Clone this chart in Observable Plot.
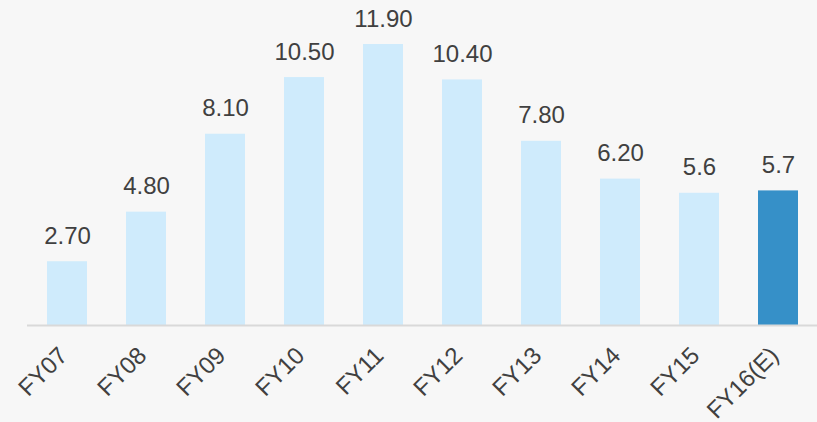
<!DOCTYPE html>
<html>
<head>
<meta charset="utf-8">
<script src="https://cdn.jsdelivr.net/npm/d3@7"></script>
<script src="https://cdn.jsdelivr.net/npm/@observablehq/plot@0.6"></script>
<style>
  html, body { margin: 0; padding: 0; background: #f7f7f7; }
  #chart svg { display: block; background: #f7f7f7; }
</style>
</head>
<body>
<div id="chart"></div>
<script>
const categories = ["FY07", "FY08", "FY09", "FY10", "FY11", "FY12", "FY13", "FY14", "FY15", "FY16(E)"];
const values = [2.70, 4.80, 8.10, 10.50, 11.90, 10.40, 7.80, 6.20, 5.6, 5.7];
const valueLabels = ["2.70", "4.80", "8.10", "10.50", "11.90", "10.40", "7.80", "6.20", "5.6", "5.7"];
const estimated = [false, false, false, false, false, false, false, false, false, true];

const data = categories.map((c, i) => ({cat: c, value: values[i], label: valueLabels[i], est: estimated[i]}));

const chart = Plot.plot({
  width: 817,
  height: 422,
  marginTop: 44,
  marginBottom: 97,
  marginLeft: 27,
  marginRight: 0,
  style: {background: "#f7f7f7", fontFamily: "'Liberation Sans', Arial, sans-serif"},
  x: {domain: categories, paddingInner: 0.494, paddingOuter: 0.247, axis: null},
  y: {domain: [0, 11.9], axis: null},
  marks: [
    Plot.barY(data, {x: "cat", y: "value", fill: d => d.est ? "#3690c8" : "#cfebfc"}),
    Plot.ruleY([0], {stroke: "#d9d9d9", strokeWidth: 2}),
    Plot.text(data, {x: "cat", y: "value", text: "label", lineAnchor: "bottom", dy: -18, fill: "#404040", fontSize: 24}),
    Plot.text(data, {x: "cat", y: 0, text: "cat", rotate: -45, textAnchor: "end", lineAnchor: "middle", dy: 26, dx: -4, fill: "#404040", fontSize: 24})
  ]
});
document.getElementById("chart").appendChild(chart);
</script>
</body>
</html>
